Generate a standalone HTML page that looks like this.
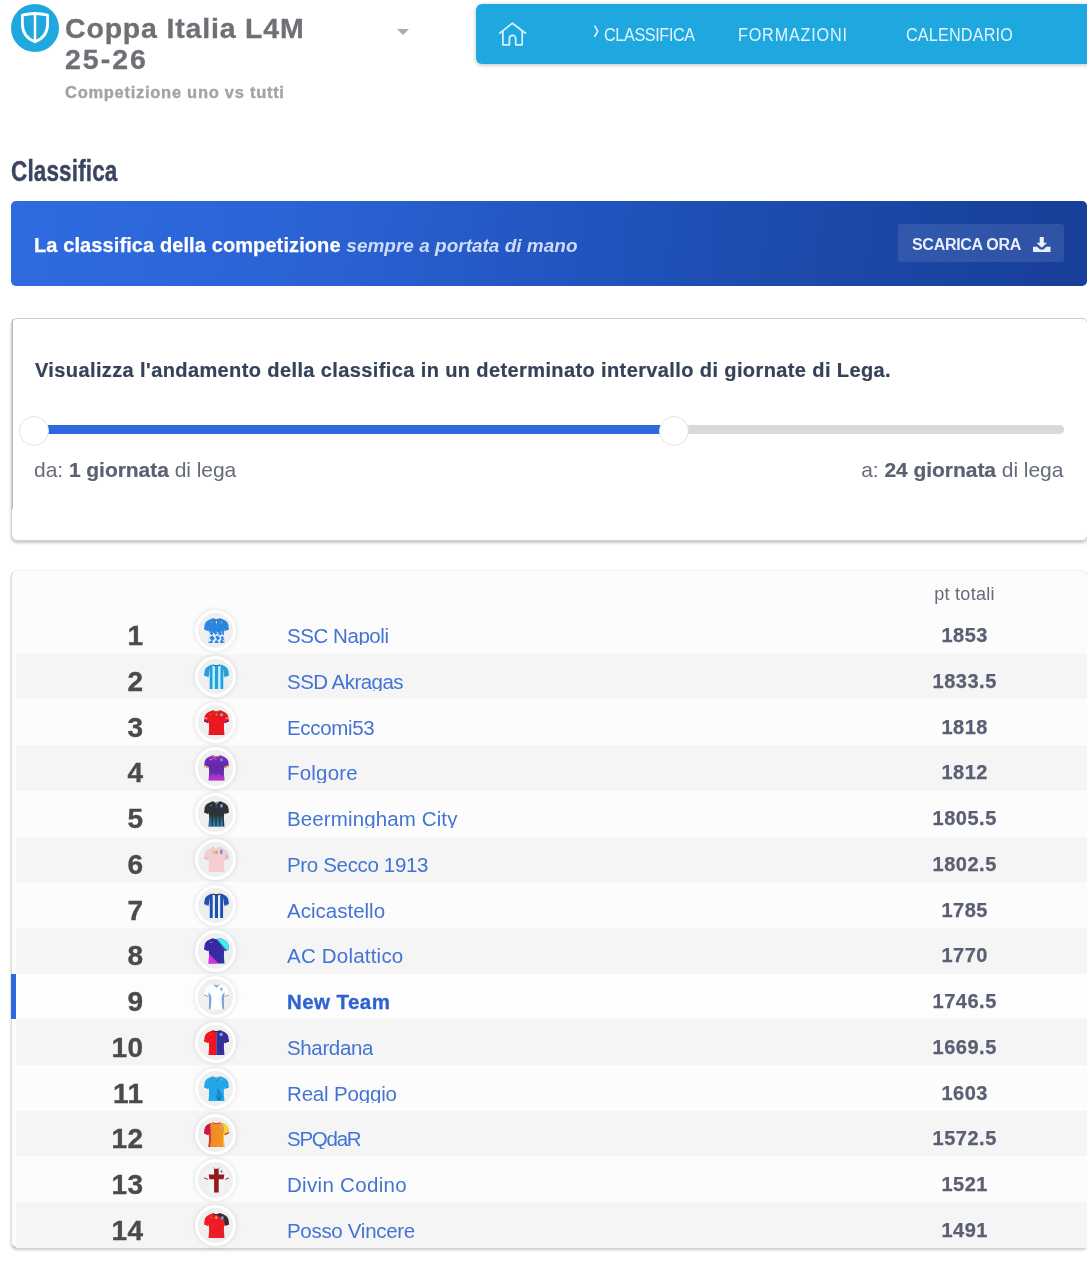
<!DOCTYPE html>
<html lang="it"><head><meta charset="utf-8"><title>Classifica - Coppa Italia L4M 25-26</title>
<style>
*{box-sizing:border-box}
html,body{margin:0;padding:0;background:#fff}
body{width:1087px;height:1261px;position:relative;overflow:hidden;font-family:"Liberation Sans",sans-serif;color:#3b4a63}
.abs{position:absolute}
/* header */
.logo{position:absolute;left:11px;top:4px;width:48px;height:48px;border-radius:50%;background:#1fa8e0}
.logo svg{position:absolute;left:0;top:0}
.title{position:absolute;left:65px;top:12.5px;width:330px;font-weight:bold;font-size:28.5px;line-height:31.5px;color:#6e7075;letter-spacing:.82px;margin:0;-webkit-text-stroke:.3px #6e7075}
.sub{position:absolute;left:65px;top:82px;font-weight:bold;font-size:16.5px;line-height:20px;color:#a0a3a8;letter-spacing:.72px;white-space:nowrap;-webkit-text-stroke:.35px #a0a3a8}
.caret{position:absolute;left:397px;top:29px;width:0;height:0;border-left:6px solid transparent;border-right:6px solid transparent;border-top:6px solid #aaa}
.nav{position:absolute;left:476px;top:4px;width:640px;height:59.500px;background:#1fa8e0;border-radius:6px;box-shadow:0 1px 4px rgba(0,0,0,.25)}
.nav a{position:absolute;top:2px;line-height:59px;color:#e2f4fc;font-size:18px;text-decoration:none;white-space:nowrap;transform:scaleX(.9);transform-origin:0 50%}
.nav svg{position:absolute}
h1{position:absolute;left:11px;top:150.600px;margin:0;font-size:30.400px;line-height:38px;font-weight:bold;color:#3a4660;-webkit-text-stroke:.45px #3a4660;letter-spacing:.2px;transform:scaleX(.74);transform-origin:0 0;white-space:nowrap}
/* banner */
.banner{position:absolute;left:11px;top:201px;width:1076px;height:84.500px;border-radius:5px;background:linear-gradient(96deg,#2e6be1 0%,#2a62d3 30%,#2053bc 55%,#1c49aa 75%,#173e98 100%)}
.banner .t1{position:absolute;left:23px;top:31px;-webkit-text-stroke:.25px #fff;line-height:26px;font-size:20px;font-weight:bold;color:#fff;white-space:nowrap;letter-spacing:.1px}
.banner .t1 i{font-size:19px;color:#cfdcf8;font-weight:bold;letter-spacing:0;-webkit-text-stroke:0}
.btn{position:absolute;left:887px;top:23px;width:166px;height:38px;border-radius:3px;background:rgba(255,255,255,.1);color:#e8eefc;font-weight:bold;font-size:16px;line-height:38px;padding-left:14px;padding-top:2px;white-space:nowrap;letter-spacing:-.3px}
.btn svg{position:absolute;left:135px;top:12.500px}
/* card1 */
.card{position:absolute;left:11px;width:1077px;background:#fff;border:1px solid #cfcfcf;border-radius:6px;box-shadow:0 2px 3px rgba(0,0,0,.22)}
.c1{top:318px;height:223px}
.c1 .q{position:absolute;left:23px;top:38px;-webkit-text-stroke:.2px #364259;font-size:20px;line-height:26px;font-weight:bold;color:#364259;white-space:nowrap;letter-spacing:.39px}
.trk{position:absolute;height:8.500px;top:106.300px;border-radius:4.250px}
.hd{position:absolute;width:30px;height:30px;border-radius:50%;background:#fff;border:1px solid #e2e2e2;top:97px}
.lab{position:absolute;top:136.500px;font-size:21px;line-height:28px;color:#666b7a;white-space:nowrap;letter-spacing:-.04px}
.lab b{color:#5b6072;-webkit-text-stroke:.2px #5b6072}
/* table */
.c2{top:570px;height:677.600px;background:#fcfcfc;border-color:#f0f0f0 #dcdcdc #c4c4c4 #dcdcdc;border-radius:6px}
.th{position:absolute;left:892.5px;width:120px;text-align:center;top:11px;font-size:18px;line-height:24px;color:#666b7a;letter-spacing:.3px}
.row{position:absolute;left:4px;width:1076px;height:45.7px}
.row.even{background:#f5f5f5}
.tx{position:absolute;left:0;top:0;width:100%;height:100%}
.row.me{background:#fdfdfd}
.row.me:before{content:"";position:absolute;left:-5px;top:0;width:5px;height:100%;background:#2d68de}
.rk{position:absolute;right:948.5px;-webkit-text-stroke:.35px #4b4b4d;top:8.500px;font-size:28px;line-height:40px;font-weight:bold;color:#4b4b4d;text-align:right;white-space:nowrap;letter-spacing:.4px}
.cir{position:absolute;left:178.900px;top:2.550px;width:41.400px;height:41.400px;border-radius:50%;background:#efefef;border:3px solid #fff;box-shadow:0 0 5px rgba(0,0,0,.13)}
.jer{position:absolute;left:6px;top:5.05px;filter:blur(.3px)}
.nm{position:absolute;left:271px;top:15.500px;height:22.4px;overflow:hidden;font-size:20.5px;line-height:28px;color:#4274d4;white-space:nowrap}
.nm span{display:block;margin-top:-1px}
.me .nm{font-weight:bold;color:#2d62d0;-webkit-text-stroke:.3px #2d62d0}
.pt{position:absolute;left:888px;width:120px;text-align:center;top:13.500px;font-size:20px;line-height:28px;font-weight:bold;color:#5a5f73;letter-spacing:.5px;padding-left:1.4px;-webkit-text-stroke:.25px #5a5f73}
</style></head><body>
<div class="logo"><svg width="48" height="48" viewBox="0 0 48 48"><path d="M11.4 11.1C19 9.2 29 9.2 36.6 11.1L36.600 20C36.600 29 31.500 34.800 24 37.800C16.500 34.800 11.400 29 11.400 20Z" fill="none" stroke="#fff" stroke-width="2.8" stroke-linejoin="round"/><path d="M24 10v28" stroke="#fff" stroke-width="2.5"/></svg></div>
<h2 class="title">Coppa Italia L4M<br><span style="letter-spacing:2px">25-26</span></h2>
<div class="sub">Competizione uno vs tutti</div>
<div class="caret"></div>
<div class="nav">
<svg style="left:22px;top:16.600px" width="30" height="27" viewBox="0 0 30 27" fill="none" stroke="#dcf3fc" stroke-width="1.7" stroke-linejoin="round" stroke-linecap="round"><path d="M1.900 12.200L14.400 2.200 27.500 12.200"/><path d="M4.900 10v13.800h6.500v-6.300a3.150 3.150 0 0 1 6.300 0v6.300h6.500V10"/></svg>
<a style="left:116.500px;font-size:30px;top:-5.500px;transform:scaleX(.62)">&#8250;</a>
<a style="left:128px;letter-spacing:-.42px">CLASSIFICA</a>
<a style="left:262px;letter-spacing:.9px">FORMAZIONI</a>
<a style="left:429.500px;letter-spacing:.18px">CALENDARIO</a>
</div>
<h1>Classifica</h1>
<div class="banner"><div class="t1">La classifica della competizione <i>sempre a portata di mano</i></div>
<div class="btn">SCARICA ORA<svg width="17.500" height="15" viewBox="0 0 17 16" preserveAspectRatio="none"><path d="M6.500 0h4v6h3.200L8.500 11.500 3.300 6h3.200z" fill="#e8eefc"/><path d="M0 10.500h4.200l2.600 2.700h3.400l2.600 -2.700H17V16H0z" fill="#e8eefc"/></svg></div></div>
<div class="card c1">
<div style="position:absolute;left:0;top:0;width:1px;height:190px;background:#bdbdbd"></div>
<div class="q">Visualizza l'andamento della classifica in un determinato intervallo di giornate di Lega.</div>
<div class="trk" style="left:36px;width:1016px;background:#d6dadc"></div>
<div class="trk" style="left:36px;width:613px;background:#2d68de;border-radius:0"></div>
<div class="hd" style="left:7px"></div><div class="hd" style="left:647px"></div>
<div class="lab" style="left:22px">da: <b>1 giornata</b> di lega</div>
<div class="lab" style="right:23.600px">a: <b>24 giornata</b> di lega</div>
</div>
<div class="card c2">
<div class="th">pt totali</div>
<div class="row" style="top:37.00px">
<div class="tx" style="top:-0.50px"><div class="rk">1</div><div class="cir"><svg class="jer" viewBox="0 0 25 25.4" width="25" height="25.4"><clipPath id="c1"><path d="M9.4 0.3 C10.8 1.5 14.2 1.5 15.6 0.3 L17.6 0.8 C20.6 1.8 23.3 3.6 24.2 6 L25 11.5 L20.5 13.3 L20.1 10.8 L19.9 18 L20.5 25.4 L4.5 25.4 L5.1 18 L4.9 10.8 L4.5 13.3 L0 11.5 L0.8 6 C1.7 3.600 4.400 1.800 7.400 0.800 Z"/></clipPath><g clip-path="url(#c1)"><rect width="25" height="26" fill="#2b86df"/><path d="M4 14.600l3-1 2 1.500 3-1.500 3 1.500 3-1.500 3 1v12h-17z" fill="#e4f0fd"/><g fill="#2f86e0"><path d="M5.500 15l2.200-1.500 1.600 2.200-2 1.600zM9.600 14l2.400-.8 1.600 2.500-2.600 1.300zM14 15.400l2.400-2 1.800 2.400-2.300 1.900zM17.800 14.200l2-.6.400 3.200-1.600.3zM5.200 19.500l3.300-2 2.500 3-3 2.700zM11.300 18.600l2.700-1.100 2.200 3-3 2zM16.800 19l2.300-1 .9 4-2.400.3zM5 24l2.400-1.400 2.200 2.800H5zM10.400 23.300l2.700-1.300 2.100 3.400h-4zM15.800 23l2.700-1.300 2 3.700h-3.800z"/></g><path d="M9.400 0h6.200v1.200h-6.200z" fill="#1f6fc8"/><rect x="11.300" y="3.200" width=".9" height="2.200" fill="#35a060"/><rect x="12.200" y="3.200" width=".8" height="2.200" fill="#fff"/><rect x="13" y="3.200" width=".9" height="2.200" fill="#d8303a"/><rect x="16.4" y="3.4" width="2" height="2.4" rx=".9" fill="#5aa2ea"/><rect x="6.4" y="3.6" width="2.2" height="1.4" rx=".9" fill="#5aa2ea"/></g></svg></div><div class="nm" style="letter-spacing:-0.44px"><span>SSC Napoli</span></div><div class="pt">1853</div></div></div>
<div class="row even" style="top:82.70px">
<div class="tx" style="top:-0.43px"><div class="rk">2</div><div class="cir"><svg class="jer" viewBox="0 0 25 25.4" width="25" height="25.4"><clipPath id="c2"><path d="M9.4 0.3 C10.8 1.5 14.2 1.5 15.6 0.3 L17.6 0.8 C20.6 1.8 23.3 3.6 24.2 6 L25 11.5 L20.5 13.3 L20.1 10.8 L19.9 18 L20.5 25.4 L4.5 25.4 L5.1 18 L4.9 10.8 L4.5 13.3 L0 11.5 L0.8 6 C1.7 3.600 4.400 1.800 7.400 0.800 Z"/></clipPath><g clip-path="url(#c2)"><rect width="25" height="26" fill="#b8f4ff"/><path d="M0 0h8.200l-2.600 6-.8 7.500H0zM25 0h-8.200l2.600 6 .8 7.500H25z" fill="#2a9ddb"/><g fill="#2a9ddb"><rect x="5.800" y="1" width="2.700" height="25"/><rect x="10.900" y="1" width="3.200" height="25"/><rect x="16.500" y="1" width="2.700" height="25"/></g><path d="M8.800 0h7.400v1.400c-1.400 1.200-6 1.200-7.400 0z" fill="#1f78c4"/></g></svg></div><div class="nm" style="letter-spacing:-0.54px"><span>SSD Akragas</span></div><div class="pt">1833.5</div></div></div>
<div class="row" style="top:128.40px">
<div class="tx" style="top:-0.36px"><div class="rk">3</div><div class="cir"><svg class="jer" viewBox="0 0 25 25.4" width="25" height="25.4"><clipPath id="c3"><path d="M9.4 0.3 C10.8 1.5 14.2 1.5 15.6 0.3 L17.6 0.8 C20.6 1.8 23.3 3.6 24.2 6 L25 11.5 L20.5 13.3 L20.1 10.8 L19.9 18 L20.5 25.4 L4.5 25.4 L5.1 18 L4.9 10.8 L4.5 13.3 L0 11.5 L0.8 6 C1.7 3.600 4.400 1.800 7.400 0.800 Z"/></clipPath><g clip-path="url(#c3)"><rect width="25" height="26" fill="#ea1620"/><path d="M8.8 0h7.400v.9c-1.400 1.300-6 1.300-7.400 0z" fill="#8a6a3a"/><path d="M0 10.1l4.700 1.900-.2 1.300L0 11.500zM25 10.100l-4.700 1.900.2 1.300 4.500-1.800z" fill="#5c2350"/><path d="M1 7.200l2.600.8-.3 1.500-2.500-.9zM24 7.200l-2.600.8.300 1.500 2.500-.9z" fill="#fff" opacity=".55"/><rect x="11.700" y="3.200" width="1.600" height="2.600" fill="#f26a3a"/><circle cx="17.500" cy="4.700" r="1.500" fill="#8fa6dc"/><path d="M5.800 4.200l2.400-.8.300.9-2.400.9z" fill="#ff6a6a" opacity=".7"/></g></svg></div><div class="nm" style="letter-spacing:-0.33px"><span>Eccomi53</span></div><div class="pt">1818</div></div></div>
<div class="row even" style="top:174.10px">
<div class="tx" style="top:-0.29px"><div class="rk">4</div><div class="cir"><svg class="jer" viewBox="0 0 25 25.4" width="25" height="25.4"><defs><linearGradient id="g4" x1="0" y1="0" x2="0" y2="1"><stop offset="0" stop-color="#7a2cc4"/><stop offset=".45" stop-color="#5f2aa4"/><stop offset=".75" stop-color="#6a2cb0"/><stop offset="1" stop-color="#b733cf"/></linearGradient></defs><clipPath id="c4"><path d="M9.4 0.3 C10.8 1.5 14.2 1.5 15.6 0.3 L17.6 0.8 C20.6 1.8 23.3 3.6 24.2 6 L25 11.5 L20.5 13.3 L20.1 10.8 L19.9 18 L20.5 25.4 L4.5 25.4 L5.1 18 L4.9 10.8 L4.5 13.3 L0 11.5 L0.8 6 C1.7 3.600 4.400 1.800 7.400 0.800 Z"/></clipPath><g clip-path="url(#c4)"><rect width="25" height="26" fill="url(#g4)"/><path d="M6 1.500l5-1.500 2.500 4.500-2.500.5z" fill="#c236d2" opacity=".75"/><path d="M5 21l3.500-2.500 3 2 3.500-2 3 2.500 2.500-1v6h-15.500z" fill="#c437d6" opacity=".55"/><path d="M8.8 0h7.400v.9c-1.400 1.300-6 1.300-7.400 0z" fill="#d9a04a"/><path d="M0 10.1l4.700 1.900-.2 1.300L0 11.500zM25 10.100l-4.700 1.900.2 1.300 4.500-1.800z" fill="#f3d45e"/><rect x="16.4" y="3.2" width="2.2" height="3" rx=".9" fill="#8a9ae6"/><path d="M5.800 4.400l2.400-.8.300.9-2.400.9z" fill="#c9a0f0" opacity=".8"/></g></svg></div><div class="nm" style="letter-spacing:0.20px"><span>Folgore</span></div><div class="pt">1812</div></div></div>
<div class="row" style="top:219.80px">
<div class="tx" style="top:-0.22px"><div class="rk">5</div><div class="cir"><svg class="jer" viewBox="0 0 25 25.4" width="25" height="25.4"><defs><linearGradient id="g5" x1="0" y1="0" x2="0" y2="1"><stop offset="0" stop-color="#2c8fd2" stop-opacity="0"/><stop offset=".45" stop-color="#1f7fb8" stop-opacity=".75"/><stop offset="1" stop-color="#2b98dc"/></linearGradient></defs><clipPath id="c5"><path d="M9.4 0.3 C10.8 1.5 14.2 1.5 15.6 0.3 L17.6 0.8 C20.6 1.8 23.3 3.6 24.2 6 L25 11.5 L20.5 13.3 L20.1 10.8 L19.9 18 L20.5 25.4 L4.5 25.4 L5.1 18 L4.9 10.8 L4.5 13.3 L0 11.5 L0.8 6 C1.7 3.600 4.400 1.800 7.400 0.800 Z"/></clipPath><g clip-path="url(#c5)"><rect width="25" height="26" fill="#2f3235"/><g fill="url(#g5)"><rect x="5.300" y="14" width="2.300" height="12"/><rect x="9" y="14" width="2.300" height="12"/><rect x="12.700" y="14" width="2.300" height="12"/><rect x="16.400" y="14" width="2.300" height="12"/></g><path d="M9.200 0l3.300 3.300 3.300-3.300-.8-.2-2.500 2.300-2.500-2.300z" fill="#b9bec4"/><rect x="11.700" y="3" width="1.600" height="4" fill="#1f5f8f" opacity=".8"/><rect x="16.3" y="3.2" width="2.3" height="3.3" rx=".9" fill="#7db4e6"/><path d="M5.600 4.600l2.600-.9.300.9-2.600 1z" fill="#6a6e72"/></g></svg></div><div class="nm" style="letter-spacing:0.12px"><span>Beermingham City</span></div><div class="pt">1805.5</div></div></div>
<div class="row even" style="top:265.50px">
<div class="tx" style="top:-0.15px"><div class="rk">6</div><div class="cir"><svg class="jer" viewBox="0 0 25 25.4" width="25" height="25.4"><clipPath id="c6"><path d="M9.4 0.3 C10.8 1.5 14.2 1.5 15.6 0.3 L17.6 0.8 C20.6 1.8 23.3 3.6 24.2 6 L25 11.5 L20.5 13.3 L20.1 10.8 L19.9 18 L20.5 25.4 L4.5 25.4 L5.1 18 L4.9 10.8 L4.5 13.3 L0 11.5 L0.8 6 C1.7 3.600 4.400 1.800 7.400 0.800 Z"/></clipPath><g clip-path="url(#c6)"><rect width="25" height="26" fill="#f4ccd4"/><path d="M8.800 0h7.400v.8h-7.400z" fill="#9a9aa0"/><rect x="8.600" y="3.600" width="2.400" height="3.600" fill="#b7d96a" opacity=".9"/><rect x="11.400" y="3.800" width="2.400" height="3" fill="#f08a6a" opacity=".85"/><rect x="16.2" y="2.4" width="2.3" height="4.8" rx=".9" fill="#6e8fd0"/><path d="M21.800 8l2.200.8-.2 2-2.300-.4z" fill="#9ab8c8" opacity=".8"/><path d="M0 10.100l4.700 1.900-.2 1.300L0 11.500zM25 10.100l-4.700 1.900.2 1.300 4.500-1.800z" fill="#e9b4c0"/></g></svg></div><div class="nm" style="letter-spacing:-0.34px"><span>Pro Secco 1913</span></div><div class="pt">1802.5</div></div></div>
<div class="row" style="top:311.20px">
<div class="tx" style="top:-0.08px"><div class="rk">7</div><div class="cir"><svg class="jer" viewBox="0 0 25 25.4" width="25" height="25.4"><clipPath id="c7"><path d="M9.4 0.3 C10.8 1.5 14.2 1.5 15.6 0.3 L17.6 0.8 C20.6 1.8 23.3 3.6 24.2 6 L25 11.5 L20.5 13.3 L20.1 10.8 L19.9 18 L20.5 25.4 L4.5 25.4 L5.1 18 L4.9 10.8 L4.5 13.3 L0 11.5 L0.8 6 C1.7 3.600 4.400 1.800 7.400 0.800 Z"/></clipPath><g clip-path="url(#c7)"><rect width="25" height="26" fill="#e8f1ff"/><path d="M0 0h8.200l-2.600 6-.8 7.500H0zM25 0h-8.200l2.600 6 .8 7.500H25z" fill="#1f4fb0"/><g fill="#2050ae"><rect x="5.800" y="1" width="2.900" height="25"/><rect x="10.900" y="1" width="3.100" height="25"/><rect x="16.200" y="1" width="2.900" height="25"/></g><path d="M8.800 0h7.400v1.500c-1.400 1.200-6 1.200-7.400 0z" fill="#3a3a40"/><path d="M9.400 0h6.200v.5h-6.200z" fill="#d8c878"/><path d="M0 10.800l4.700 1.900-.2.800L0 11.700zM25 10.800l-4.700 1.900.2.800 4.500-1.800z" fill="#d8dc9a"/></g></svg></div><div class="nm" style="letter-spacing:0.01px"><span>Acicastello</span></div><div class="pt">1785</div></div></div>
<div class="row even" style="top:356.90px">
<div class="tx" style="top:-0.01px"><div class="rk">8</div><div class="cir"><svg class="jer" viewBox="0 0 25 25.4" width="25" height="25.4"><defs><linearGradient id="g8" x1="0" y1="0" x2="1" y2="1"><stop offset="0" stop-color="#3a22a4"/><stop offset="1" stop-color="#2f349c"/></linearGradient><linearGradient id="g8b" x1="0" y1="1" x2=".8" y2=".2"><stop offset="0" stop-color="#f02af4"/><stop offset=".6" stop-color="#d62ae6"/><stop offset="1" stop-color="#7a2ac0"/></linearGradient></defs><clipPath id="c8"><path d="M9.4 0.3 C10.8 1.5 14.2 1.5 15.6 0.3 L17.6 0.8 C20.6 1.8 23.3 3.6 24.2 6 L25 11.5 L20.5 13.3 L20.1 10.8 L19.9 18 L20.5 25.4 L4.5 25.4 L5.1 18 L4.9 10.8 L4.5 13.3 L0 11.5 L0.8 6 C1.7 3.600 4.400 1.800 7.400 0.800 Z"/></clipPath><g clip-path="url(#c8)"><rect width="25" height="26" fill="url(#g8)"/><path d="M11.600 0H25v12.500l-3.400-1.300L18 6.800z" fill="#3ff0ee"/><path d="M11.600 0l1.800 0 8.200 11-1.600.2z" fill="#2aa8d8" opacity=".6"/><path d="M4.500 15l10 10.400H4.500z" fill="url(#g8b)"/><path d="M0 9.600l4.900 1.700-.4 2L0 11.500z" fill="#5a22a8"/><path d="M5.800 4.200l2.400-.8.300 1-2.400.9z" fill="#7a78d8"/></g></svg></div><div class="nm" style="letter-spacing:0.21px"><span>AC Dolattico</span></div><div class="pt">1770</div></div></div>
<div class="row me" style="top:402.60px">
<div class="tx" style="top:0.06px"><div class="rk">9</div><div class="cir"><svg class="jer" viewBox="0 0 25 25.4" width="25" height="25.4"><clipPath id="c9"><path d="M9.4 0.3 C10.8 1.5 14.2 1.5 15.6 0.3 L17.6 0.8 C20.6 1.8 23.3 3.6 24.2 6 L25 11.5 L20.5 13.3 L20.1 10.8 L19.9 18 L20.5 25.4 L4.5 25.4 L5.1 18 L4.9 10.8 L4.5 13.3 L0 11.5 L0.8 6 C1.7 3.600 4.400 1.800 7.400 0.800 Z"/></clipPath><g clip-path="url(#c9)"><rect width="25" height="26" fill="#fdfeff"/><path d="M8.700 0h7.600l-3.800 3.900z" fill="#86acdc"/><path d="M4.400 8.600c2.200 1.400 3 3.600 3 7 0 3.400-.5 6.600-1 9.800H4.400l.7-7.400zM20.600 8.600c-2.200 1.400-3 3.600-3 7 0 3.400.5 6.600 1 9.800h2l-.7-7.400z" fill="#6f9fd2" opacity=".95"/><path d="M0 10.400l4.700 1.900-.2 1L0 11.500zM25 10.400l-4.700 1.900.2 1 4.500-1.800z" fill="#6f9fd2"/><rect x="16.5" y="3.4" width="1.9" height="3.6" rx=".9" fill="#7fa6d8"/></g></svg></div><div class="nm" style="letter-spacing:0.43px"><span>New Team</span></div><div class="pt">1746.5</div></div></div>
<div class="row even" style="top:448.30px">
<div class="tx" style="top:0.13px"><div class="rk">10</div><div class="cir"><svg class="jer" viewBox="0 0 25 25.4" width="25" height="25.4"><clipPath id="c10"><path d="M9.4 0.3 C10.8 1.5 14.2 1.5 15.6 0.3 L17.6 0.8 C20.6 1.8 23.3 3.6 24.2 6 L25 11.5 L20.5 13.3 L20.1 10.8 L19.9 18 L20.5 25.4 L4.5 25.4 L5.1 18 L4.9 10.8 L4.5 13.3 L0 11.5 L0.8 6 C1.7 3.600 4.400 1.800 7.400 0.800 Z"/></clipPath><g clip-path="url(#c10)"><rect width="12.300" height="26" fill="#f0141f"/><rect x="12.300" width="12.700" height="26" fill="#33309c"/><path d="M8.800 0h7.400v1.200c-1.400 1-6 1-7.400 0z" fill="#2a2a36"/><path d="M8.800 0h3.500v.8h-3.500z" fill="#e8a050"/><circle cx="17.200" cy="4.400" r="1.600" fill="#8ea4f0"/><path d="M5.800 4.200l2.400-.8.300.9-2.400.9z" fill="#ff5a5a" opacity=".8"/><path d="M25 10.100l-4.700 1.900.2 1.300 4.500-1.800z" fill="#242466"/><path d="M0 10.100l4.700 1.900-.2 1.300L0 11.500z" fill="#d8301a"/></g></svg></div><div class="nm" style="letter-spacing:-0.36px"><span>Shardana</span></div><div class="pt">1669.5</div></div></div>
<div class="row" style="top:494.00px">
<div class="tx" style="top:0.20px"><div class="rk">11</div><div class="cir"><svg class="jer" viewBox="0 0 25 25.4" width="25" height="25.4"><clipPath id="c11"><path d="M9.4 0.3 C10.8 1.5 14.2 1.5 15.6 0.3 L17.6 0.8 C20.6 1.8 23.3 3.6 24.2 6 L25 11.5 L20.5 13.3 L20.1 10.8 L19.9 18 L20.5 25.4 L4.5 25.4 L5.1 18 L4.9 10.8 L4.5 13.3 L0 11.5 L0.8 6 C1.7 3.600 4.400 1.800 7.400 0.800 Z"/></clipPath><g clip-path="url(#c11)"><rect width="25" height="26" fill="#22a6e9"/><path d="M12.600 12.400c1.800.4 3.400 1.600 4.300 3.400l1.700 4.800-1.600 3.400-3.600.4-1.700-3.300 1.500-4.200z" fill="#1886c8" opacity=".85"/><path d="M14.800 20.500l1.800 1.600-1 2.200-1.900-.8z" fill="#0f6aa8" opacity=".8"/><path d="M14.500 12.600c2 1.200 3.300 3 4.200 5.400l.9 3.400.3-7.600z" fill="#3cb6f4" opacity=".8"/><path d="M9.300 0l3.200 2.700 3.200-2.700-.9-.2-2.300 1.900-2.300-1.900z" fill="#6fd0fa"/><rect x="11.500" y="3.300" width="1" height="1.900" fill="#4aa860"/><rect x="12.500" y="3.300" width="1.100" height="1.900" fill="#d85040"/><rect x="16.5" y="2.6" width="2" height="2.6" rx=".9" fill="#5ab8f0"/></g></svg></div><div class="nm" style="letter-spacing:-0.17px"><span>Real Poggio</span></div><div class="pt">1603</div></div></div>
<div class="row even" style="top:539.70px">
<div class="tx" style="top:0.27px"><div class="rk">12</div><div class="cir"><svg class="jer" viewBox="0 0 25 25.4" width="25" height="25.4"><defs><linearGradient id="g12" x1="0" y1="0" x2="1" y2="0"><stop offset="0" stop-color="#e8861a"/><stop offset=".7" stop-color="#f2932a"/><stop offset="1" stop-color="#f0a030"/></linearGradient></defs><clipPath id="c12"><path d="M9.4 0.3 C10.8 1.5 14.2 1.5 15.6 0.3 L17.6 0.8 C20.6 1.8 23.3 3.6 24.2 6 L25 11.5 L20.5 13.3 L20.1 10.8 L19.9 18 L20.5 25.4 L4.5 25.4 L5.1 18 L4.9 10.8 L4.5 13.3 L0 11.5 L0.8 6 C1.7 3.600 4.400 1.800 7.400 0.800 Z"/></clipPath><g clip-path="url(#c12)"><rect width="25" height="26" fill="url(#g12)"/><path d="M0 0h6.600l-.4 5 .5 6-.2 7-.6 8H0z" fill="#cf1450"/><path d="M4.600 12h1.900l-.2 6-.5 8H4.400l.7-8z" fill="#d03038"/><path d="M18.600 0H25v14h-5.300l.3-6.500z" fill="#f5d236"/><path d="M18.900 11h1.800l.2 7 .5 8h-1.900l-.4-8z" fill="#f6c83a"/><path d="M25 10.100l-4.700 1.900.2 1.300 4.500-1.800z" fill="#d02850"/><path d="M8.800 0h7.400v1.300c-1.400 1.100-6 1.100-7.400 0z" fill="#d83a4a"/><rect x="16.3" y="3.2" width="2" height="3.2" rx=".9" fill="#9ab0d8"/></g></svg></div><div class="nm" style="letter-spacing:-1.26px"><span>SPQdaR</span></div><div class="pt">1572.5</div></div></div>
<div class="row" style="top:585.40px">
<div class="tx" style="top:0.34px"><div class="rk">13</div><div class="cir"><svg class="jer" viewBox="0 0 25 25.4" width="25" height="25.4"><clipPath id="c13"><path d="M9.4 0.3 C10.8 1.5 14.2 1.5 15.6 0.3 L17.6 0.8 C20.6 1.8 23.3 3.6 24.2 6 L25 11.5 L20.5 13.3 L20.1 10.8 L19.9 18 L20.5 25.4 L4.5 25.4 L5.1 18 L4.9 10.8 L4.5 13.3 L0 11.5 L0.8 6 C1.7 3.600 4.400 1.800 7.400 0.800 Z"/></clipPath><g clip-path="url(#c13)"><rect width="25" height="26" fill="#f3f3f3"/><rect x="10.100" y="1.200" width="4.600" height="25" fill="#941a1f"/><path d="M4.700 7.600h15.600l-.7 4.700H5.400z" fill="#941a1f"/><path d="M0 10.300l4 1.600-.2 1L0 11.500zM25 10.300l-4 1.600.2 1 3.800-1.400z" fill="#a8283c"/><path d="M8.900 0h7.200v1.300c-1.400.9-5.800.9-7.200 0z" fill="#d88a92"/><path d="M10.400 .2h4.200v1.500h-4.200z" fill="#f6c8cc"/><rect x="16.7" y="3" width="1.7" height="2.8" rx=".9" fill="#4a86d0"/></g></svg></div><div class="nm" style="letter-spacing:0.31px"><span>Divin Codino</span></div><div class="pt">1521</div></div></div>
<div class="row even" style="top:631.10px">
<div class="tx" style="top:0.41px"><div class="rk">14</div><div class="cir"><svg class="jer" viewBox="0 0 25 25.4" width="25" height="25.4"><clipPath id="c14"><path d="M9.4 0.3 C10.8 1.5 14.2 1.5 15.6 0.3 L17.6 0.8 C20.6 1.8 23.3 3.6 24.2 6 L25 11.5 L20.5 13.3 L20.1 10.8 L19.9 18 L20.5 25.4 L4.5 25.4 L5.1 18 L4.9 10.8 L4.5 13.3 L0 11.5 L0.8 6 C1.7 3.600 4.400 1.800 7.400 0.800 Z"/></clipPath><g clip-path="url(#c14)"><rect width="25" height="26" fill="#ee1c25"/><path d="M10.400 0H25v13l-4.300-1.500-.5-4.500z" fill="#2e3033"/><path d="M8.800 0h7.400v1.200c-1.400 1-6 1-7.400 0z" fill="#2a2a2e"/><circle cx="12.200" cy="4.600" r="1.200" fill="#f4c04a"/><rect x="17.2" y="3.2" width="2.3" height="3.2" rx=".9" fill="#7faee6"/><path d="M5.800 4.200l2.400-.8.300.9-2.400.9z" fill="#ff6060" opacity=".8"/></g></svg></div><div class="nm" style="letter-spacing:-0.30px"><span>Posso Vincere</span></div><div class="pt">1491</div></div></div>
</div>
</body></html>
